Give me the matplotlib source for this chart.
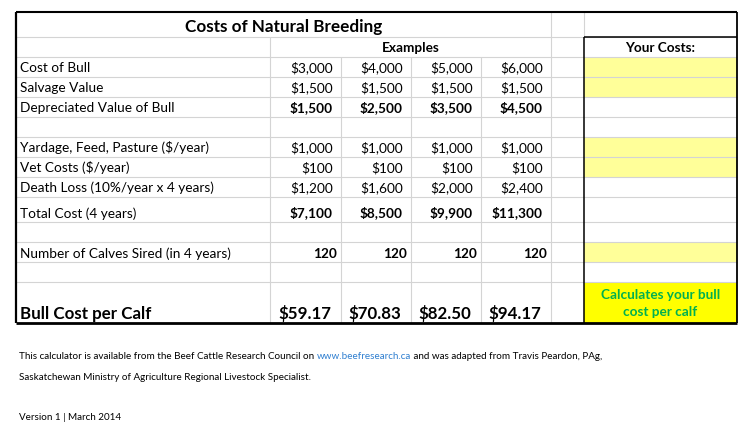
import matplotlib
matplotlib.use("Agg")
import matplotlib.pyplot as plt

plt.rcParams['font.family'] = ['Lato', 'DejaVu Sans']
plt.rcParams['text.parse_math'] = False

# ---- data ----
title = "Costs of Natural Breeding"
examples_label = "Examples"
your_costs_label = "Your Costs:"
row_labels = ["Cost of Bull", "Salvage Value", "Depreciated Value of Bull", "",
              "Yardage, Feed, Pasture ($/year)", "Vet Costs ($/year)",
              "Death Loss (10%/year x 4 years)", "Total Cost (4 years)", "",
              "Number of Calves Sired (in 4 years)", "", "Bull Cost per Calf"]
cost_of_bull = [3000, 4000, 5000, 6000]
salvage_value = [1500, 1500, 1500, 1500]
depreciated_value = [1500, 2500, 3500, 4500]
yardage_feed = [1000, 1000, 1000, 1000]
vet_costs = [100, 100, 100, 100]
death_loss = [1200, 1600, 2000, 2400]
total_cost = [7100, 8500, 9900, 11300]
calves_sired = [120, 120, 120, 120]
cost_per_calf = [59.17, 70.83, 82.50, 94.17]
calc_note = "Calculates your bull\ncost per calf"
footer_1a = "This calculator is available from the Beef Cattle Research Council on "
footer_link = "www.beefresearch.ca"
footer_1b = " and was adapted from Travis Peardon, PAg,"
footer_2 = "Saskatchewan Ministry of Agriculture Regional Livestock Specialist."
footer_3 = "Version 1 | March 2014"

# row values (None = blank row), bold flag, yellow input cell
rows = [
    (cost_of_bull, False, True),
    (salvage_value, False, True),
    (depreciated_value, True, False),
    (None, False, False),
    (yardage_feed, False, True),
    (vet_costs, False, True),
    (death_loss, False, False),
    (total_cost, True, False),
    (None, False, False),
    (calves_sired, True, True),
    (None, False, False),
    (cost_per_calf, True, False),
]

# ---- layout (pixels) ----
row_edges = [12, 37, 57, 77, 97, 117, 137, 157, 177, 197, 222, 242, 262, 282, 323]
col_edges = [16, 270, 341, 411, 481, 551, 584, 737]
GRID = '#d4d4d4'
LIGHT_YELLOW = '#ffff99'
YELLOW = '#ffff00'
GREEN = '#00b050'
BODY = 9.8
BIG = 12.2
FOOT = 7.1

fig = plt.figure(figsize=(7.5, 4.3), dpi=100)
ax = fig.add_axes([0, 0, 1, 1])
ax.set_xlim(0, 750)
ax.set_ylim(430, 0)
ax.axis('off')

# input cells in "Your Costs" column
for i, (vals, bold, yellow) in enumerate(rows):
    top, bot = row_edges[i + 2], row_edges[i + 3]
    if yellow:
        ax.fill_between([col_edges[6], col_edges[7]], top, bot, color=LIGHT_YELLOW, lw=0, zorder=1)
top, bot = row_edges[-2], row_edges[-1]
ax.fill_between([col_edges[6], col_edges[7]], top, bot, color=YELLOW, lw=0, zorder=1)

# grey gridlines
for y in row_edges[1:-1]:
    ax.hlines(y, col_edges[0], col_edges[7], color=GRID, lw=0.8, zorder=2)
ax.vlines(col_edges[1], row_edges[1], row_edges[-1], color=GRID, lw=0.8, zorder=2)
for x in col_edges[2:5]:
    ax.vlines(x, row_edges[2], row_edges[-1], color=GRID, lw=0.8, zorder=2)
ax.vlines(col_edges[5], row_edges[0], row_edges[-1], color=GRID, lw=0.8, zorder=2)
ax.vlines(col_edges[6], row_edges[0], row_edges[1], color=GRID, lw=0.8, zorder=2)

# black borders
ax.hlines(row_edges[0], col_edges[0], col_edges[7], color='black', lw=1.5, zorder=3)
ax.hlines(row_edges[-1], col_edges[0], col_edges[7], color='black', lw=2.0, zorder=3)
ax.vlines(col_edges[0], row_edges[0], row_edges[-1], color='black', lw=1.6, zorder=3)
ax.vlines(col_edges[7], row_edges[0], row_edges[-1], color='black', lw=1.3, zorder=3)
ax.hlines(row_edges[1], col_edges[6], col_edges[7], color='black', lw=1.1, zorder=3)
ax.vlines(col_edges[6], row_edges[1], row_edges[-1], color='black', lw=1.1, zorder=3)

# header texts
ax.text((col_edges[0] + col_edges[5]) / 2, row_edges[1] - 5, title,
        ha='center', va='baseline', fontsize=12.3, fontweight='bold', zorder=4)
ax.text((col_edges[2] + col_edges[4]) / 2, row_edges[2] - 5, examples_label,
        ha='center', va='baseline', fontsize=BODY, fontweight='bold', zorder=4)
ax.text((col_edges[6] + col_edges[7]) / 2, row_edges[2] - 5, your_costs_label,
        ha='center', va='baseline', fontsize=BODY, fontweight='bold', zorder=4)

# body rows
for i, (vals, bold, yellow) in enumerate(rows):
    bot = row_edges[i + 3]
    last = i == len(rows) - 1
    size = BIG if last else BODY
    ax.text(col_edges[0] + 4, bot - 4.5, row_labels[i], ha='left', va='baseline',
            fontsize=size, fontweight='bold' if last else 'normal', zorder=4)
    if vals is None:
        continue
    for j, v in enumerate(vals):
        if last:
            s = f"${v:,.2f}"
            pad = 10
        elif vals is calves_sired:
            s = f"{v}"
            pad = 4
        else:
            s = f"${v:,}"
            pad = 8
        ax.text(col_edges[j + 2] - pad, bot - 4.5, s, ha='right', va='baseline',
                fontsize=size, fontweight='bold' if bold else 'normal', zorder=4)

ax.text((col_edges[6] + col_edges[7]) / 2, (row_edges[-2] + row_edges[-1]) / 2 + 1, calc_note,
        ha='center', va='center', fontsize=BODY, fontweight='bold', color=GREEN,
        linespacing=1.5, zorder=4)

# footer
fig.canvas.draw()
renderer = fig.canvas.get_renderer()
x0 = 19
t = ax.text(x0, 359, footer_1a, ha='left', va='baseline', fontsize=FOOT)
ext = t.get_window_extent(renderer)
xa = ax.transData.inverted().transform((ext.x1, 0))[0]
t = ax.text(xa, 359, footer_link, ha='left', va='baseline', fontsize=FOOT, color='#2f7fd0')
ext = t.get_window_extent(renderer)
xb = ax.transData.inverted().transform((ext.x1, 0))[0]
ax.text(xb, 359, footer_1b, ha='left', va='baseline', fontsize=FOOT)
ax.text(x0, 380, footer_2, ha='left', va='baseline', fontsize=FOOT)
ax.text(x0, 420, footer_3, ha='left', va='baseline', fontsize=FOOT)

fig.savefig("out.png", dpi=100, facecolor='white')
